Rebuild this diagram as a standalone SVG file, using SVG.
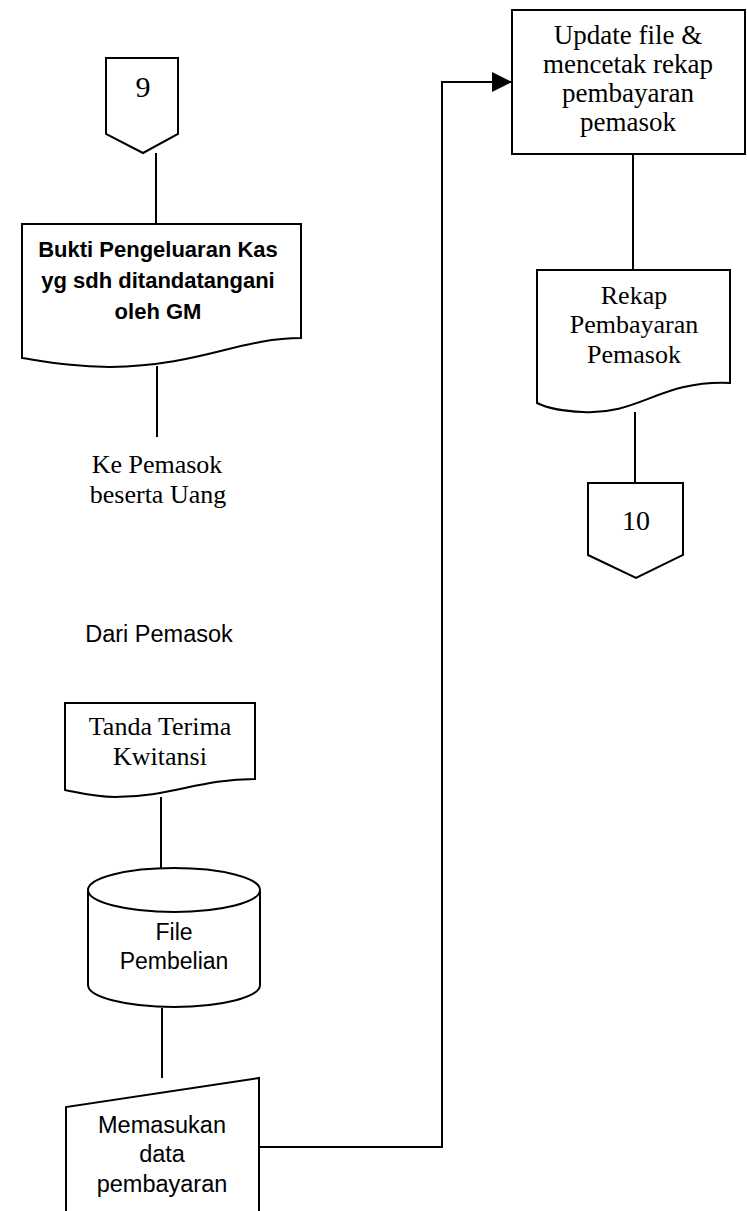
<svg xmlns="http://www.w3.org/2000/svg" width="747" height="1211" viewBox="0 0 747 1211">
<defs>
<style>
.s{fill:#fff;stroke:#000;stroke-width:2}
.l{fill:none;stroke:#000;stroke-width:2}
.serif{font-family:"Liberation Serif","Times New Roman",serif;font-size:26px;fill:#000;text-anchor:middle}
.sans{font-family:"Liberation Sans",Arial,sans-serif;font-size:23.5px;fill:#000;text-anchor:middle}
.b{font-weight:bold;font-size:22px}
</style>
<marker id="arr" markerWidth="20" markerHeight="20" refX="20" refY="10" orient="auto" markerUnits="userSpaceOnUse">
<path d="M0,0 L20,10 L0,20 Z" fill="#000"/>
</marker>
</defs>
<rect width="747" height="1211" fill="#fff"/>
<g id="connectors">
<line class="l" x1="156" y1="153" x2="156" y2="225"/>
<line class="l" x1="157" y1="366" x2="157" y2="437"/>
<line class="l" x1="161" y1="797" x2="161" y2="868"/>
<line class="l" x1="162" y1="1008" x2="162" y2="1078"/>
<path class="l" d="M259,1147 H442 V82 H512" marker-end="url(#arr)"/>
<line class="l" x1="633" y1="154" x2="633" y2="270"/>
<line class="l" x1="635" y1="412" x2="635" y2="483"/>
</g>
<g id="conn9">
<path class="s" d="M106,58 H178 V134 L143,153 L106,134 Z"/>
<text class="serif" x="143" y="97" style="font-size:30px">9</text>
</g>
<g id="bukti">
<path class="s" d="M22,224 H301 V338 C240,338 200,366 110,367 C75,367 48,362 22,358 Z"/>
<text class="sans b" x="158" y="257">Bukti Pengeluaran Kas</text>
<text class="sans b" x="158" y="288">yg sdh ditandatangani</text>
<text class="sans b" x="158" y="319">oleh GM</text>
</g>
<g id="ke-pemasok">
<text class="serif" x="157" y="473">Ke Pemasok</text>
<text class="serif" x="158" y="503">beserta Uang</text>
</g>
<g id="dari-pemasok">
<text class="sans" x="159" y="642">Dari Pemasok</text>
</g>
<g id="tanda-terima">
<path class="s" d="M65,703 H255 V779 C200,779 170,797 115,797 C95,797 80,793 65,790 Z"/>
<text class="serif" x="160" y="735">Tanda Terima</text>
<text class="serif" x="160" y="765">Kwitansi</text>
</g>
<g id="file-pembelian">
<path class="s" d="M88,890 V985 A86,22 0 0 0 260,985 V890"/>
<ellipse class="s" cx="174" cy="890" rx="86" ry="22"/>
<text class="sans" x="174" y="940" style="font-size:23px">File</text>
<text class="sans" x="174" y="969" style="font-size:23px">Pembelian</text>
</g>
<g id="memasukan">
<path class="s" d="M66,1215 V1107 L259,1078 V1215"/>
<text class="sans" x="162" y="1133">Memasukan</text>
<text class="sans" x="162" y="1162">data</text>
<text class="sans" x="162" y="1192">pembayaran</text>
</g>
<g id="update">
<rect class="s" x="512" y="10" width="233" height="144"/>
<text class="serif" x="628" y="44" style="font-size:27px">Update file &amp;</text>
<text class="serif" x="628" y="73" style="font-size:27px">mencetak rekap</text>
<text class="serif" x="628" y="102" style="font-size:27px">pembayaran</text>
<text class="serif" x="628" y="131" style="font-size:27px">pemasok</text>
</g>
<g id="rekap">
<path class="s" d="M537,270 H730 V383 C660,380 640,415 583,412 C560,411 545,407 537,403 Z"/>
<text class="serif" x="634" y="304">Rekap</text>
<text class="serif" x="634" y="333">Pembayaran</text>
<text class="serif" x="634" y="363">Pemasok</text>
</g>
<g id="conn10">
<path class="s" d="M588,483 H683 V555 L636,578 L588,555 Z"/>
<text class="serif" x="636" y="530" style="font-size:28px">10</text>
</g>
</svg>
